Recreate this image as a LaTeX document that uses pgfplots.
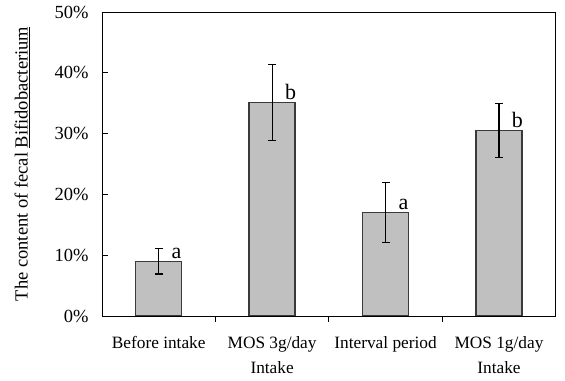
\documentclass[border=0pt]{standalone}
\usepackage{pgfplots}
\pgfplotsset{compat=1.18}
\usepackage{pgfplotstable}
\usepackage{fontspec}
\setmainfont{Liberation Serif}
\usetikzlibrary{calc}
\definecolor{barfill}{HTML}{C0C0C0}
\definecolor{barline}{HTML}{3A3A3A}
\pgfplotstableread{
x y e lab
0 9.0 2.1 a
1 35.1 6.2 b
2 17.0 4.9 a
3 30.5 4.4 b
}\datatable
\begin{document}
\begin{tikzpicture}
\begin{axis}[
  name=ax,
  scale only axis,
  width=453.7pt, height=304pt,
  xmin=-0.5, xmax=3.5,
  ymin=0, ymax=50,
  ytick={0,10,20,30,40,50},
  yticklabel={\pgfmathprintnumber{\tick}\%},
  /pgf/number format/assume math mode=true,
  xtick={0.5,1.5,2.5},
  xticklabels={},
  extra x ticks={0,1,2,3},
  extra x tick labels={Before intake,{MOS 3g/day\\Intake},Interval period,{MOS 1g/day\\Intake}},
  extra x tick style={major tick length=0pt, xticklabel style={align=center, anchor=north, yshift=-17pt, font=\fontsize{17.3}{25}\selectfont}},
  xtick pos=bottom, ytick pos=left,
  tick align=inside,
  major tick length=6pt,
  tick style={black, line width=0.8pt},
  axis line style={black, line width=0.9pt},
  yticklabel style={font=\fontsize{18.5}{20}\selectfont, xshift=-10pt},
  ylabel={The content of fecal \underline{Bifidobacterium}},
  ylabel style={at={(axis description cs:-0.176,0.5)}, anchor=center, font=\fontsize{18.5}{20}\selectfont},
  ybar, bar width=46pt,
  nodes near coords,
  point meta=explicit symbolic,
  every node near coord/.append style={anchor=base west, xshift=9pt, yshift=3pt, font=\fontsize{22}{24}\selectfont, black},
]
\addplot[fill=barfill, draw=barline, line width=1.3pt,
  error bars/.cd, y dir=both, y explicit,
  error bar style={black, line width=1.2pt},
  error mark options={rotate=90, mark size=4pt, line width=1.2pt, black}]
  table[x=x, y=y, y error=e, meta=lab] {\datatable};
\end{axis}
\path ($(ax.south west)+(-102pt,-65pt)$) rectangle ($(ax.north east)+(9.3pt,12pt)$);
\end{tikzpicture}
\end{document}
